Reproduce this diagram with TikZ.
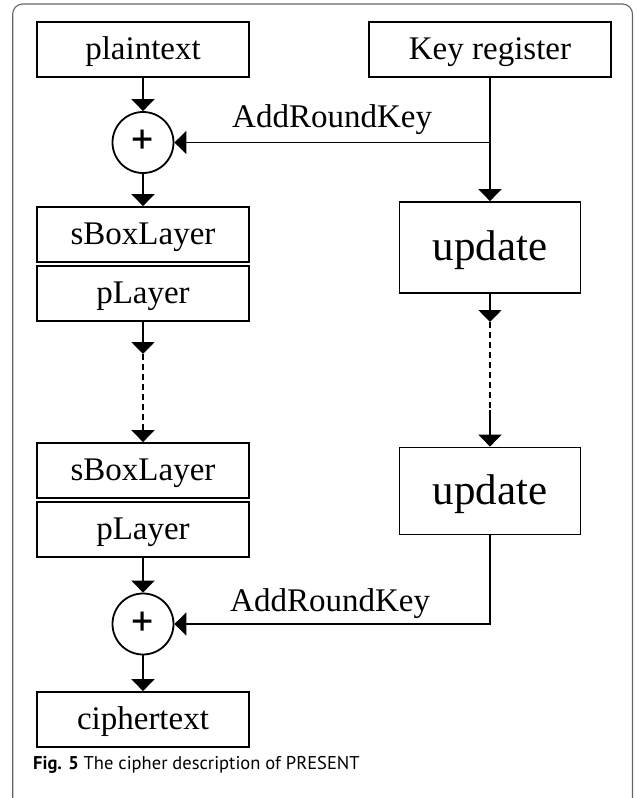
\documentclass[tikz,border=0pt]{standalone}
\usepackage{fontspec}
\setmainfont{Liberation Serif}
\newfontfamily\capfont{PT Sans}
\usetikzlibrary{arrows.meta}
\begin{document}
\begin{tikzpicture}[x=1pt,y=-1pt,
  boxnode/.style={draw,line width=1.8pt,inner sep=0pt,minimum width=212pt,minimum height=55pt,
    font=\fontsize{33}{36}\selectfont,text height=24pt,text depth=4pt},
  updnode/.style={draw,line width=1.8pt,inner sep=0pt,minimum width=181pt,
    font=\fontsize{43}{46}\selectfont,text height=30pt,text depth=4pt},
  xornode/.style={draw,circle,line width=1.8pt,inner sep=0pt,minimum size=61pt,
    font=\capfont\fontsize{44}{46}\selectfont},
  conn/.style={line width=1.8pt},
  arr/.style={line width=1.8pt,-{Triangle[length=12pt,width=23pt]}},
  dashconn/.style={line width=1.8pt,dash pattern=on 6pt off 4pt},
  lbl/.style={font=\fontsize{33}{36}\selectfont,anchor=base west,inner sep=0pt}
]
\useasboundingbox (0,0) rectangle (637,798);
\begin{scope}
\clip (0,0) rectangle (637,798);
\draw[line width=1.1pt,black!60,rounded corners=10pt] (12.7,4) rectangle (632.5,830);
\end{scope}

% left column
\node[boxnode] (plain) at (143,49.5) {plaintext};
\node[xornode] (xor1) at (143,142.5) {+};
\node[boxnode] (sbox1) at (143,234.5) {sBoxLayer};
\node[boxnode] (play1) at (143,293.5) {pLayer};
\node[boxnode] (sbox2) at (143,470.5) {sBoxLayer};
\node[boxnode] (play2) at (143,529.5) {pLayer};
\node[xornode] (xor2) at (143,624) {+};
\node[boxnode] (cipher) at (143,719.5) {ciphertext};

% right column
\node[boxnode,minimum width=242pt] (key) at (490,49.5) {Key register};
\node[updnode,minimum height=91pt] (upd1) at (490,247.5) {update};
\node[updnode,minimum height=87pt] (upd2) at (490,491) {update};

% labels
\node[lbl] (ark1) at (232,127) {AddRoundKey};
\node[lbl] (ark2) at (230,611) {AddRoundKey};

% connectors
\draw[arr] (plain.south) -- (xor1.north);
\draw[arr] (xor1.south) -- (sbox1.north);
\draw[arr] (key.south) -- (upd1.north);
\coordinate (br1) at (key.south |- xor1.east);
\draw[arr] (br1) -- (xor1.east);

\coordinate (l1) at (143,354);
\coordinate (l2) at (143,426);
\draw[arr] (play1.south) -- (l1);
\draw[dashconn] (l1) -- (l2);
\draw[arr] (l2) -- (sbox2.north);

\coordinate (r1) at (490,322);
\coordinate (r2) at (490,410);
\draw[arr] (upd1.south) -- (r1);
\draw[dashconn] (r1) -- (r2);
\draw[arr] (r2) -- (upd2.north);

\draw[arr] (play2.south) -- (xor2.north);
\draw[arr] (upd2.south) |- (xor2.east);
\draw[arr] (xor2.south) -- (cipher.north);

% caption
\node[anchor=base west,inner sep=0pt,font=\capfont\fontsize{18.5}{22}\selectfont] (cap) at (33,769)
  {\textbf{Fig. 5} The cipher description of PRESENT};
\end{tikzpicture}
\end{document}
